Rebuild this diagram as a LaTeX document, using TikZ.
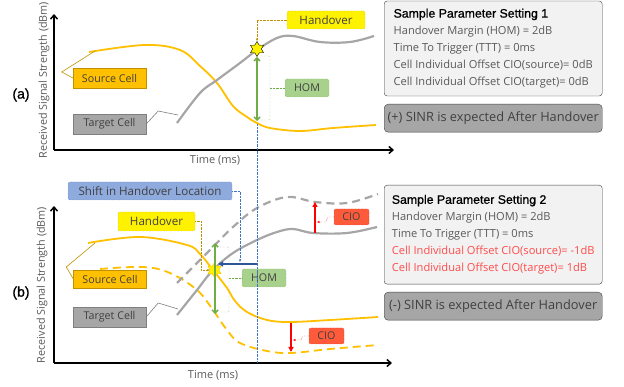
\documentclass[tikz,border=0pt]{standalone}
\usepackage{fontspec}
\setmainfont{Open Sans}
\newfontfamily\headfont[FakeBold=1]{Liberation Sans}
\usetikzlibrary{shapes.geometric,arrows.meta}

\definecolor{srcorange}{HTML}{FFC000}
\definecolor{srcdark}{HTML}{BF9000}
\definecolor{tgtgray}{HTML}{A6A6A6}
\definecolor{tgtdark}{HTML}{7F7F7F}
\definecolor{txtgray}{HTML}{404040}
\definecolor{lightgray}{HTML}{595959}
\definecolor{homgreen}{HTML}{70AD47}
\definecolor{homfill}{HTML}{A9D18E}
\definecolor{shiftblue}{HTML}{4472C4}
\definecolor{shiftfill}{HTML}{8FAADC}
\definecolor{darkblue}{HTML}{2F5597}
\definecolor{ciofill}{HTML}{FF5B3B}
\definecolor{ciodark}{HTML}{C00000}
\definecolor{ciotext}{HTML}{FF4B4B}
\definecolor{boxfill}{HTML}{F2F2F2}

\begin{document}
\begin{tikzpicture}[x=1pt, y=-1pt,
        font=\fontsize{11}{12}\selectfont,
        cellbox/.style={rectangle, draw, minimum width=73, minimum height=20, inner sep=0, text=txtgray, font=\fontsize{10.7}{12}\selectfont},
        tag/.style={rectangle, draw, densely dotted, rounded corners=2pt, minimum height=18, inner sep=0, text=txtgray, font=\fontsize{11.6}{12}\selectfont},
        smalltag/.style={tag, font=\fontsize{10.7}{12}\selectfont},
        setbox/.style={rectangle, draw=txtgray, fill=boxfill, rounded corners=3pt, minimum width=218, align=left, text=lightgray, font=\fontsize{11.1}{17}\selectfont, anchor=north west},
        sinrbox/.style={rectangle, draw=txtgray, fill=tgtgray, rounded corners=4pt, minimum width=218, minimum height=28, inner sep=0, text=txtgray, font=\fontsize{12.8}{13}\selectfont, anchor=north west},
        axis/.style={-{Straight Barb[length=4pt, width=7pt]}, line width=1.5pt},
        ylab/.style={rotate=90, text=lightgray, font=\fontsize{10.8}{11}\selectfont},
        srcline/.style={draw=srcorange, line width=1.8pt},
        tgtline/.style={draw=tgtgray, line width=2.2pt},
        callout/.style={line width=0.6pt},
        bracket/.style={draw=homgreen, densely dotted, rounded corners=1pt},
        homarrow/.style={{Straight Barb[length=3pt]}-{Straight Barb[length=3pt]}, draw=homgreen, line width=1.5pt},
        hoconn/.style={-{Stealth[length=3pt]}, draw=srcdark, densely dotted},
        cioarrow/.style={-{Triangle[length=5pt, width=5pt]}, draw=red, line width=1.8pt},
        cioconn/.style={-{Stealth[length=3pt]}, draw=red, densely dotted},
        dashlong/.style={dash pattern=on 8pt off 5pt},
        hostar/.style={star, star points=6, star point ratio=1.7, fill=yellow, minimum size=15, inner sep=0},
        panel/.style={font=\headfont\fontsize{14}{15}\selectfont}
    ]
        \useasboundingbox (0,0) rectangle (624,387);

        % ---------- (a) ----------
        \draw[axis] (54,150) -- (54,14);
        \draw[axis] (54,150) -- (394,150);
        \node[ylab] (ylabA) at (44,80) {Received Signal Strength (dBm)};
        \node[text=lightgray] (timeA) at (215,160) {Time (ms)};
        \node[panel] (labA) at (21,95) {(a)};

        % curves
        \draw[srcline] plot[smooth, tension=0.6] coordinates {(89,52) (145,45) (180,50) (200,66) (217,83) (233,106) (247,117) (257,123) (270,128) (300,131) (333,128) (376,125)};
        \draw[tgtline] plot[smooth, tension=0.6] coordinates {(177,123) (200,93) (217,80) (240,63) (257,50) (277,38) (293,36) (320,42) (350,42) (374,36)};
        \coordinate (srcA) at (95,51);
        \coordinate (tgtA) at (178,115);
        \coordinate (hoSrcA) at (257,121);
        \coordinate (braceA) at (270,88);

        % Nodes
        \node[cellbox, fill=srcorange, draw=srcdark] (srcboxA) at (109.5,78) {Source Cell};
        \node[cellbox, fill=tgtgray, draw=tgtdark] (tgtboxA) at (109.5,124) {Target Cell};
        \node[tag, fill=yellow, draw=srcdark, minimum width=78] (hoA) at (326,20) {Handover};
        \node[smalltag, fill=homfill, draw=homgreen, minimum width=44] (homA) at (307,88) {HOM};
        \node[hostar, draw=black] (starA) at (257,49) {};

        % Arrows
        \draw[callout, draw=srcdark] (srcboxA.west) -- ++(-11,-6) -- (srcA);
        \draw[callout, draw=tgtdark] (tgtboxA.east) -- ++(12,-13) -- (tgtA);
        \draw[hoconn] (hoA.west) -| (starA.north);
        \draw[homarrow] (starA.south) -- (hoSrcA);
        \draw[bracket] (260,56) -| (270,120) -- (260,120);
        \draw[bracket] (braceA) -- (homA.west);

        % ---------- (b) ----------
        \draw[axis] (54,363) -- (54,206);
        \draw[axis] (54,363) -- (392,363);
        \node[ylab] (ylabB) at (42,285) {Received Signal Strength (dBm)};
        \node[text=lightgray] (timeB) at (213,375) {Time (ms)};
        \node[panel] (labB) at (21,293) {(b)};

        % curves
        \draw[srcline] plot[smooth, tension=0.6] coordinates {(88,243) (140,237) (187,245) (200,254) (213,270) (227,288) (235,301) (247,312) (267,320) (290,322) (330,320) (378,317)};
        \draw[srcline, dashlong] plot[smooth, tension=0.6] coordinates {(100,269) (143,267) (170,273) (197,290) (213,310) (227,330) (240,343) (267,351) (291,353) (330,349) (378,345)};
        \draw[tgtline] plot[smooth, tension=0.6] coordinates {(177,315) (197,290) (213,270) (233,253) (257,240) (277,232) (293,229) (313,233) (347,233) (377,227)};
        \draw[tgtline, dashlong] plot[smooth, tension=0.6] coordinates {(177,283) (195,265) (213,247) (233,227) (257,208) (287,197) (315,202) (347,203) (378,194)};
        \coordinate (srcB) at (95,243);
        \coordinate (tgtB) at (178,309);
        \coordinate (homTopB) at (215,243);
        \coordinate (homBotB) at (215,314);
        \coordinate (braceB) at (229,278);
        \coordinate (hoOldB) at (257,264);
        \coordinate (hoNewB) at (218,264);
        \coordinate (shiftTip) at (240,262);
        \coordinate (hoTimeB) at (257,363);
        \coordinate (tgtLowB) at (315,233);
        \coordinate (tgtHighB) at (315,202);
        \coordinate (srcHighB) at (291,323);
        \coordinate (srcLowB) at (291,352);
        \coordinate (cioUpMid) at (317,222);
        \coordinate (cioDownMid) at (293,340);

        % Nodes
        \node[cellbox, fill=srcorange, draw=srcdark, minimum height=18] (srcboxB) at (110,279) {Source Cell};
        \node[cellbox, fill=tgtgray, draw=tgtdark] (tgtboxB) at (109.5,317) {Target Cell};
        \node[tag, fill=shiftfill, draw=shiftblue, minimum width=164] (shiftB) at (150,191) {Shift in Handover Location};
        \node[tag, fill=yellow, draw=srcdark, minimum width=77, minimum height=19] (hoB) at (156.5,221.5) {Handover};
        \node[smalltag, fill=homfill, draw=homgreen, minimum width=44] (homB) at (264,278) {HOM};
        \node[smalltag, fill=ciofill, draw=ciodark, minimum width=35, minimum height=16] (cioTgt) at (351.5,217) {CIO};
        \node[smalltag, fill=ciofill, draw=ciodark, minimum width=35, minimum height=16] (cioSrc) at (326.5,336) {CIO};
        \node[hostar, draw=srcorange] (starB) at (214.5,270) {};

        % Arrows
        \draw[shiftblue, densely dotted] (hoSrcA) ++(0,3) -- (hoTimeB);
        \draw[callout, draw=srcdark] (srcboxB.west) -- ++(-7,-12) -- (srcB);
        \draw[callout, draw=tgtdark] (tgtboxB.east) -- ++(12,-14) -- (tgtB);
        \draw[hoconn] (hoB.east) -- ++(6,0) |- (starB.west);
        \draw[-{Stealth[length=3pt]}, draw=shiftblue, densely dotted] (shiftB.east) -| (shiftTip);
        \draw[-{Triangle[length=5pt, width=5pt]}, draw=darkblue, line width=1.8pt] (hoOldB) -- (hoNewB);
        \draw[homarrow] (homTopB) -- (homBotB);
        \draw[bracket] (219,247) -| (229,312) -- (219,312);
        \draw[bracket] (braceB) -- (homB.west);
        \draw[cioarrow] (tgtLowB) -- (tgtHighB);
        \draw[cioarrow] (srcHighB) -- (srcLowB);
        \draw[cioconn] (cioTgt.west) -- ++(-6,0) -- ++(-2,5) -- (cioUpMid);
        \draw[cioconn] (cioSrc.west) -- ++(-6,0) -- ++(-2,4) -- (cioDownMid);

        % ---------- settings ----------
        \node[setbox, minimum height=95] (setA) at (384,0.8) {{\headfont\fontsize{12.3}{13}\selectfont\color{black}Sample Parameter Setting 1}\\
            Handover Margin (HOM) = 2dB\\
            Time To Trigger (TTT) = 0ms\\
            Cell Individual Offset CIO(source)= 0dB\\
            Cell Individual Offset CIO(target)= 0dB};
        \node[sinrbox] (sinrA) at (384,104) {(+) SINR is expected After Handover};
        \node[setbox, minimum height=99] (setB) at (384,185) {{\headfont\fontsize{12.3}{13}\selectfont\color{black}Sample Parameter Setting 2}\\
            Handover Margin (HOM) = 2dB\\
            Time To Trigger (TTT) = 0ms\\
            {\color{ciotext}Cell Individual Offset CIO(source)= -1dB}\\
            {\color{ciotext}Cell Individual Offset CIO(target)= 1dB}};
        \node[sinrbox] (sinrB) at (384,292) {(-) SINR is expected After Handover};
\end{tikzpicture}
\end{document}
